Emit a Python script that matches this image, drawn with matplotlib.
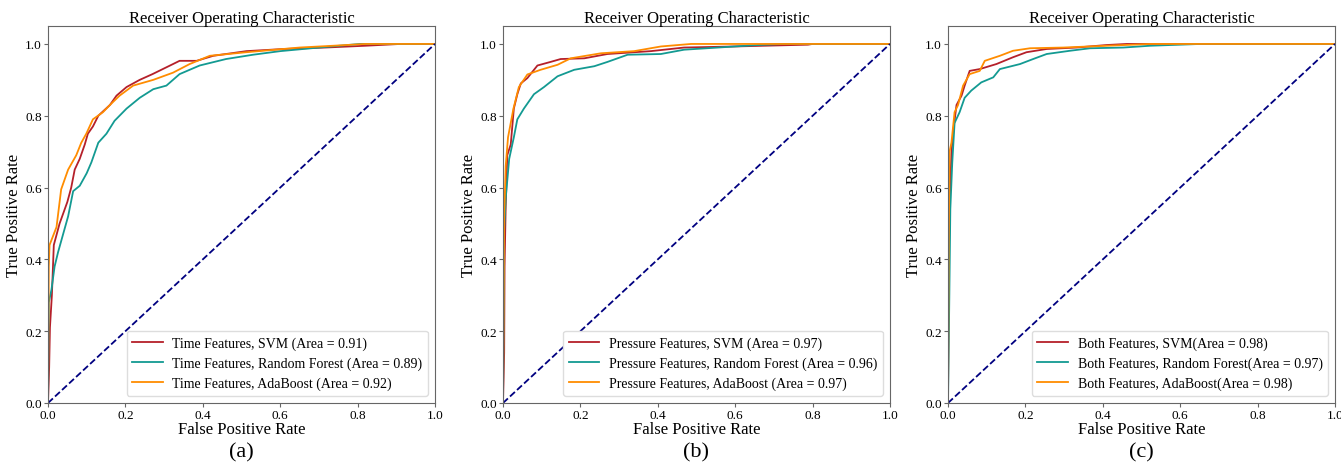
import numpy as np
import matplotlib
matplotlib.use("Agg")
import matplotlib.pyplot as plt

plt.rcParams['font.family'] = ['Liberation Serif', 'DejaVu Serif']

# ---- panel (a): time features ----
a_svm_fpr = [0, 0.003, 0.005, 0.01, 0.015, 0.03, 0.05, 0.06, 0.069, 0.082, 0.095, 0.103, 0.116, 0.13,
             0.16, 0.177, 0.203, 0.237, 0.27, 0.306, 0.34, 0.384, 0.427, 0.513, 0.61, 0.716, 0.82, 0.91, 1.0]
a_svm_tpr = [0, 0.10, 0.21, 0.30, 0.44, 0.50, 0.56, 0.60, 0.65, 0.68, 0.72, 0.75, 0.77, 0.80,
             0.83, 0.856, 0.88, 0.90, 0.916, 0.935, 0.953, 0.953, 0.967, 0.98, 0.986, 0.99, 0.995, 1.0, 1.0]
a_rf_fpr = [0, 0.002, 0.009, 0.017, 0.026, 0.039, 0.052, 0.065, 0.082, 0.10, 0.112, 0.13, 0.151, 0.172,
            0.203, 0.237, 0.272, 0.306, 0.34, 0.392, 0.46, 0.53, 0.60, 0.70, 0.806, 1.0]
a_rf_tpr = [0, 0.28, 0.316, 0.38, 0.42, 0.47, 0.52, 0.59, 0.605, 0.64, 0.67, 0.725, 0.75, 0.786,
            0.82, 0.85, 0.874, 0.884, 0.916, 0.94, 0.958, 0.97, 0.98, 0.99, 1.0, 1.0]
a_ada_fpr = [0, 0.002, 0.004, 0.022, 0.034, 0.052, 0.073, 0.086, 0.099, 0.116, 0.142, 0.16, 0.185,
             0.22, 0.272, 0.323, 0.366, 0.418, 0.513, 0.65, 0.737, 0.82, 1.0]
a_ada_tpr = [0, 0.38, 0.44, 0.49, 0.595, 0.65, 0.69, 0.725, 0.75, 0.79, 0.81, 0.83, 0.856,
             0.884, 0.90, 0.92, 0.944, 0.967, 0.977, 0.99, 0.995, 1.0, 1.0]

# ---- panel (b): pressure features ----
b_svm_fpr = [0, 0.003, 0.004, 0.007, 0.011, 0.02, 0.028, 0.037, 0.046, 0.063, 0.089, 0.123, 0.149,
             0.21, 0.27, 0.382, 0.468, 0.598, 0.788, 0.8, 1.0]
b_svm_tpr = [0, 0.14, 0.38, 0.55, 0.69, 0.72, 0.82, 0.86, 0.89, 0.905, 0.94, 0.95, 0.958,
             0.96, 0.972, 0.98, 0.99, 0.993, 0.998, 1.0, 1.0]
b_rf_fpr = [0, 0.003, 0.007, 0.016, 0.028, 0.037, 0.054, 0.08, 0.106, 0.141, 0.184, 0.236, 0.27,
            0.322, 0.408, 0.468, 0.555, 0.658, 0.727, 1.0]
b_rf_tpr = [0, 0.48, 0.57, 0.68, 0.74, 0.79, 0.82, 0.86, 0.88, 0.91, 0.928, 0.938, 0.95,
            0.97, 0.972, 0.984, 0.99, 0.997, 1.0, 1.0]
b_ada_fpr = [0, 0.003, 0.007, 0.013, 0.02, 0.027, 0.041, 0.063, 0.097, 0.141, 0.175, 0.253, 0.339,
             0.408, 0.486, 1.0]
b_ada_tpr = [0, 0.52, 0.66, 0.74, 0.78, 0.82, 0.88, 0.915, 0.928, 0.942, 0.96, 0.974, 0.98,
             0.993, 1.0, 1.0]

# ---- panel (c): both features ----
c_svm_fpr = [0, 0.002, 0.004, 0.009, 0.015, 0.022, 0.035, 0.043, 0.056, 0.082, 0.125, 0.168, 0.203,
             0.255, 0.332, 0.41, 0.462, 1.0]
c_svm_tpr = [0, 0.38, 0.55, 0.70, 0.77, 0.83, 0.856, 0.884, 0.925, 0.93, 0.944, 0.963, 0.977,
             0.986, 0.99, 0.997, 1.0, 1.0]
c_rf_fpr = [0, 0.003, 0.006, 0.011, 0.017, 0.03, 0.043, 0.06, 0.086, 0.117, 0.134, 0.186, 0.22,
            0.255, 0.315, 0.367, 0.453, 0.522, 0.652, 1.0]
c_rf_tpr = [0, 0.26, 0.54, 0.67, 0.78, 0.81, 0.85, 0.87, 0.893, 0.907, 0.93, 0.944, 0.958,
            0.972, 0.981, 0.988, 0.99, 0.995, 1.0, 1.0]
c_ada_fpr = [0, 0.002, 0.004, 0.009, 0.017, 0.026, 0.039, 0.056, 0.082, 0.095, 0.134, 0.168, 0.212,
             0.298, 0.41, 0.522, 1.0]
c_ada_tpr = [0, 0.456, 0.70, 0.726, 0.81, 0.83, 0.884, 0.916, 0.925, 0.953, 0.967, 0.981, 0.988,
             0.99, 0.995, 1.0, 1.0]

panel_tags = ['(a)', '(b)', '(c)']
legend_labels = [
    ['Time Features, SVM (Area = 0.91)', 'Time Features, Random Forest (Area = 0.89)',
     'Time Features, AdaBoost (Area = 0.92)'],
    ['Pressure Features, SVM (Area = 0.97)', 'Pressure Features, Random Forest (Area = 0.96)',
     'Pressure Features, AdaBoost (Area = 0.97)'],
    ['Both Features, SVM(Area = 0.98)', 'Both Features, Random Forest(Area = 0.97)',
     'Both Features, AdaBoost(Area = 0.98)'],
]
curves = [
    [(a_svm_fpr, a_svm_tpr), (a_rf_fpr, a_rf_tpr), (a_ada_fpr, a_ada_tpr)],
    [(b_svm_fpr, b_svm_tpr), (b_rf_fpr, b_rf_tpr), (b_ada_fpr, b_ada_tpr)],
    [(c_svm_fpr, c_svm_tpr), (c_rf_fpr, c_rf_tpr), (c_ada_fpr, c_ada_tpr)],
]
colors = ['#b5202a', '#139a92', '#ff8c00']

W, H = 1341, 464
fig = plt.figure(figsize=(W / 100, H / 100), dpi=100)
lefts = [48, 503, 948]
for i in range(3):
    ax = fig.add_axes([lefts[i] / W, 1 - 404 / H, 387 / W, 377 / H])
    for (fpr, tpr), col, lab in zip(curves[i], colors, legend_labels[i]):
        ax.plot(fpr, tpr, color=col, lw=1.3, label=lab)
    ax.plot([0, 1], [0, 1], color='navy', lw=1.3, linestyle='--')
    ax.set_xlim(0, 1.0)
    ax.set_ylim(0, 1.05)
    ax.set_xticks(np.arange(0, 1.01, 0.2))
    ax.set_yticks(np.arange(0, 1.01, 0.2))
    ax.tick_params(labelsize=9.5, length=3, pad=1.5, color='#666666')
    ax.set_title('Receiver Operating Characteristic', fontsize=12, pad=3)
    ax.set_xlabel('False Positive Rate', fontsize=12, labelpad=0)
    ax.set_ylabel('True Positive Rate', fontsize=12, labelpad=2)
    for s in ax.spines.values():
        s.set_color('#666666')
    ax.legend(loc='lower right', fontsize=10, handlelength=2.2, handletextpad=0.7,
              framealpha=1, edgecolor='#dddddd')
    ax.text(0.5, -0.13, panel_tags[i], transform=ax.transAxes, ha='center', va='center',
            fontsize=16)

fig.savefig('out.png', dpi=100)
